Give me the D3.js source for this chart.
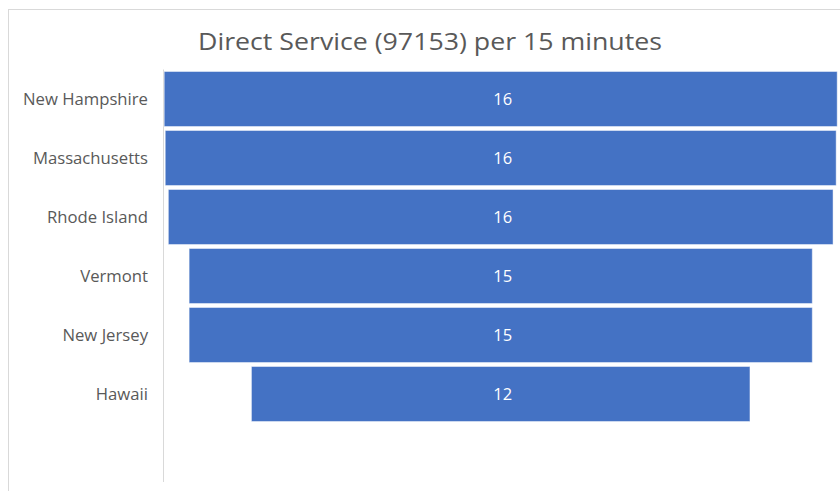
<!DOCTYPE html>
<html>
<head>
<meta charset="utf-8">
<script src="https://cdn.jsdelivr.net/npm/d3@7"></script>
<style>
  html, body { margin: 0; padding: 0; background: #ffffff; }
  svg { display: block; }
  text { font-family: "Open Sans", "Noto Sans", sans-serif; }
</style>
</head>
<body>
<svg id="chart" width="840" height="491"></svg>
<script>
const titleText = "Direct Service (97153) per 15 minutes";
const categories = ["New Hampshire", "Massachusetts", "Rhode Island", "Vermont", "New Jersey", "Hawaii"];
const values = [16.2, 16.15, 16.0, 15.0, 15.0, 12.0];

const W = 840, H = 491;
const svg = d3.select("#chart");

// chart frame
svg.append("rect")
  .attr("x", 8.5).attr("y", 9.5)
  .attr("width", 900).attr("height", 600)
  .attr("fill", "#ffffff")
  .attr("stroke", "#d9d9d9").attr("stroke-width", 1);

// title
const title = svg.append("text")
  .attr("x", 430).attr("y", 49.5)
  .attr("text-anchor", "middle")
  .attr("fill", "#595959")
  .style("font-size", "24.5px")
  .text(titleText);
if (title.node().getComputedTextLength() > 0) {
  title.attr("textLength", 464).attr("lengthAdjust", "spacingAndGlyphs");
}

const cx = 500.7;
const x = d3.scaleLinear().domain([0, d3.max(values)]).range([0, 673]);
const y = d3.scaleBand().domain(categories)
  .range([69.5, 69.5 + 6 * 59])
  .paddingInner(0.068).paddingOuter(0.034);

// axis line
svg.append("line")
  .attr("x1", 163.5).attr("x2", 163.5)
  .attr("y1", 69.5).attr("y2", 482)
  .attr("stroke", "#d9d9d9").attr("stroke-width", 1);

const rows = categories.map((c, i) => ({ c, v: values[i] }));

// bars
svg.append("g").selectAll("rect")
  .data(rows)
  .join("rect")
  .attr("x", d => cx - x(d.v) / 2)
  .attr("y", d => y(d.c))
  .attr("width", d => x(d.v))
  .attr("height", y.bandwidth())
  .attr("fill", "#4472C4")
  .attr("stroke", "#ffffff").attr("stroke-opacity", 0.45).attr("stroke-width", 1);

// data labels
svg.append("g").selectAll("text")
  .data(rows)
  .join("text")
  .attr("x", cx + 2)
  .attr("y", d => y(d.c) + y.bandwidth() / 2)
  .attr("dy", "0.36em")
  .attr("text-anchor", "middle")
  .attr("fill", "#ffffff")
  .style("font-size", "16.5px")
  .text(d => d3.format(".0f")(d.v));

// category labels
svg.append("g").selectAll("text")
  .data(categories)
  .join("text")
  .attr("x", 148)
  .attr("y", d => y(d) + y.bandwidth() / 2)
  .attr("dy", "0.36em")
  .attr("text-anchor", "end")
  .attr("fill", "#595959")
  .style("font-size", "16.7px")
  .text(d => d);
</script>
</body>
</html>
